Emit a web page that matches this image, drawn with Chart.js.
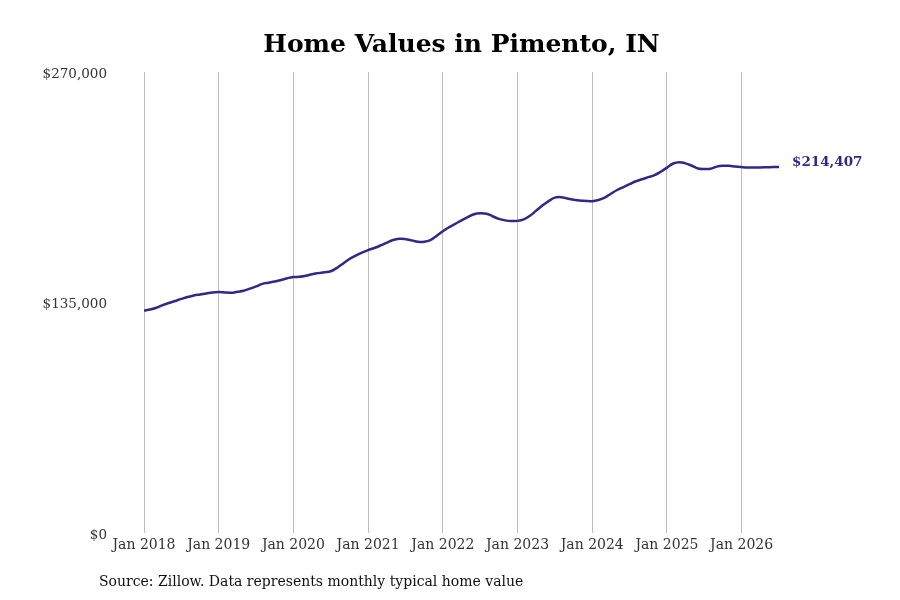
<!DOCTYPE html>
<html>
<head>
<meta charset="utf-8">
<script src="https://cdn.jsdelivr.net/npm/chart.js@4"></script>
<style>
  html, body { margin: 0; padding: 0; background: #fff; }
  #wrap { width: 900px; height: 600px; }
</style>
</head>
<body>
<div id="wrap"><canvas id="c" width="900" height="600"></canvas></div>
<script>
const chartTitle = "Home Values in Pimento, IN";
const sourceNote = "Source: Zillow. Data represents monthly typical home value";
const lastLabel = "$214,407";

// Monthly typical home values, Jan 2018 .. Jul 2026 (index 0 = Jan 2018)
const values = [
  130300, 130900, 131900, 133500, 134700, 135900, 137100, 138200, 139100, 139700, 140300, 140900,
  141100, 140900, 140700, 141300, 141900, 143100, 144400, 145900, 146600, 147300, 148200, 149200,
  149900, 150100, 150700, 151600, 152200, 152700, 153300, 155300, 157900, 160500, 162400, 164200,
  165700, 166900, 168400, 170100, 171600, 172300, 172100, 171400, 170600, 170600, 171600, 174000,
  176700, 179100, 181100, 183100, 185000, 186700, 187300, 187000, 185500, 184000, 183100, 182700,
  182800, 183700, 185800, 188800, 191800, 194400, 196400, 196700, 195900, 195200, 194700, 194500,
  194300, 195000, 196400, 198700, 200900, 202600, 204300, 206000, 207200, 208400, 209600, 211600,
  214000, 216400, 217200, 216500, 215100, 213500, 213200, 213300, 214600, 215100, 215100, 214600,
  214300, 214100, 214100, 214100, 214200, 214300, 214407
];
const xTickPositions = [0, 12, 24, 36, 48, 60, 72, 84, 96];
const xTickLabels = ["Jan 2018", "Jan 2019", "Jan 2020", "Jan 2021", "Jan 2022", "Jan 2023", "Jan 2024", "Jan 2025", "Jan 2026"];
const yTickValues = [0, 135000, 270000];
const yTickLabels = ["$0", "$135,000", "$270,000"];

const LINE_COLOR = "#2e2a85";
const FONT = "'DejaVu Serif', serif";

const decorPlugin = {
  id: "decor",
  afterDraw(chart) {
    const ctx = chart.ctx;
    const ca = chart.chartArea;
    ctx.save();
    ctx.fillStyle = "#000";
    ctx.font = "bold 25px " + FONT;
    ctx.textAlign = "center";
    ctx.textBaseline = "alphabetic";
    ctx.fillText(chartTitle, (ca.left + ca.right) / 2, 52);

    ctx.font = "14px " + FONT;
    ctx.textAlign = "left";
    ctx.textBaseline = "middle";
    ctx.fillStyle = "#111";
    ctx.fillText(sourceNote, 99, 582);

    const meta = chart.getDatasetMeta(0);
    const last = meta.data[meta.data.length - 1];
    ctx.font = "bold 13.5px " + FONT;
    ctx.fillStyle = LINE_COLOR;
    ctx.textAlign = "left";
    ctx.fillText(lastLabel, last.x + 13, last.y - 4);
    ctx.restore();
  }
};

new Chart(document.getElementById("c"), {
  type: "line",
  data: {
    datasets: [{
      data: values.map((v, i) => ({ x: i, y: v })),
      borderColor: LINE_COLOR,
      borderWidth: 2.5,
      pointRadius: 0,
      tension: 0.4,
      fill: false
    }]
  },
  options: {
    responsive: false,
    animation: false,
    events: [],
    layout: { padding: { top: 72, right: 121, bottom: 0, left: 0 } },
    plugins: { legend: { display: false }, title: { display: false }, tooltip: { enabled: false } },
    scales: {
      x: {
        type: "linear",
        min: 0,
        max: values.length - 1,
        afterBuildTicks: (s) => { s.ticks = xTickPositions.map(v => ({ value: v })); },
        afterFit: (s) => { s.height = 67; },
        ticks: {
          callback: (v) => { const i = xTickPositions.indexOf(v); return i >= 0 ? xTickLabels[i] : ""; },
          color: "#333",
          font: { family: FONT, size: 14 },
          padding: 4,
          maxRotation: 0,
          autoSkip: false
        },
        grid: { display: true, color: "#bdbdbd", lineWidth: 1, drawTicks: false },
        border: { display: false }
      },
      y: {
        min: 0,
        max: 270000,
        afterBuildTicks: (s) => { s.ticks = yTickValues.map(v => ({ value: v })); },
        afterFit: (s) => { s.width = 144; },
        ticks: {
          callback: (v) => { const i = yTickValues.indexOf(v); return i >= 0 ? yTickLabels[i] : ""; },
          color: "#333",
          font: { family: FONT, size: 13.5 },
          padding: 37,
          labelOffset: 2
        },
        grid: { display: false, drawTicks: false },
        border: { display: false }
      }
    }
  },
  plugins: [decorPlugin]
});
</script>
</body>
</html>
